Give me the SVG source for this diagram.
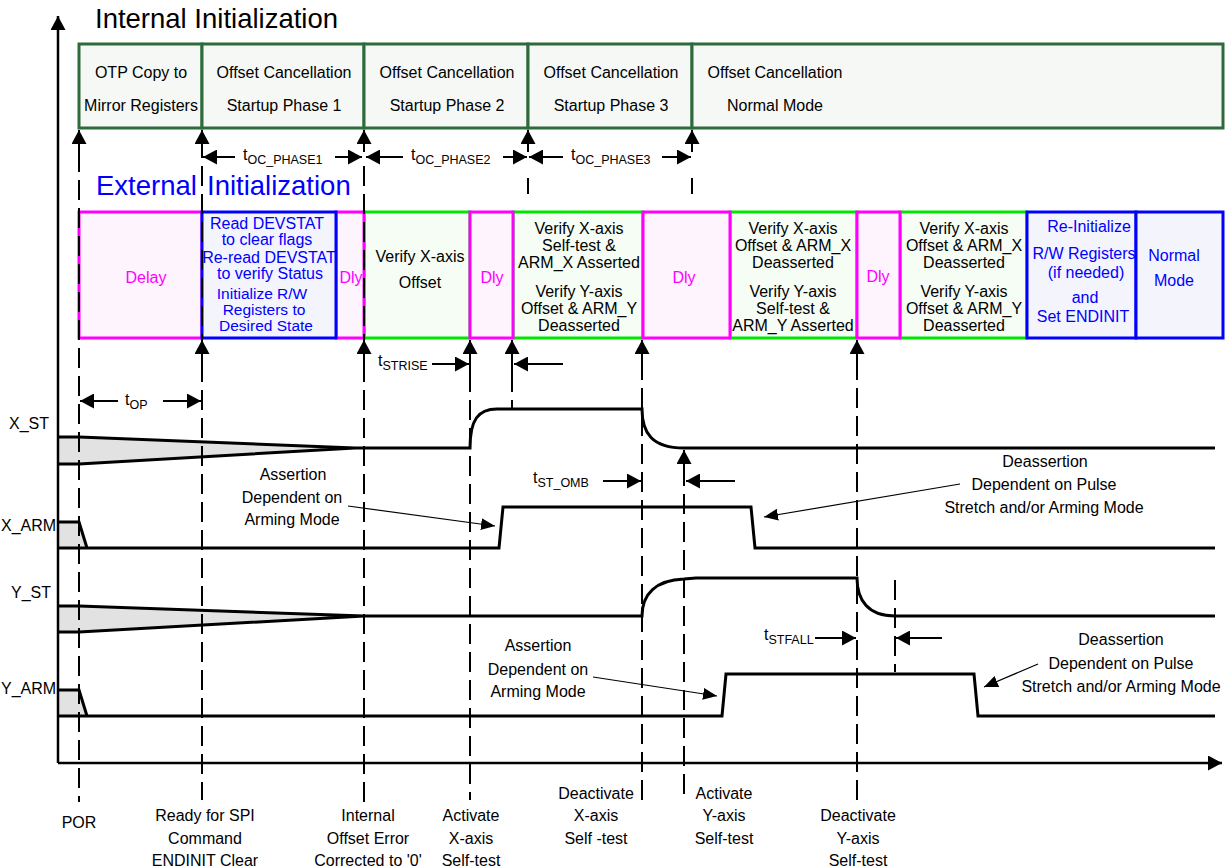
<svg xmlns="http://www.w3.org/2000/svg" width="1225" height="867" viewBox="0 0 1225 867">
<defs>
<marker id="ah" viewBox="0 0 14 15" refX="14" refY="7.5" markerWidth="14" markerHeight="15" markerUnits="userSpaceOnUse" orient="auto"><path d="M0,0 L14,7.5 L0,15 z" fill="#000"/></marker>
<marker id="ah2" viewBox="0 0 14 12" refX="14" refY="6" markerWidth="14" markerHeight="12" markerUnits="userSpaceOnUse" orient="auto"><path d="M0,0 L14,6 L0,12 z" fill="#000"/></marker>
<style>
text{font-family:"Liberation Sans",Arial,sans-serif;font-size:16px;fill:#000}
.c{text-anchor:middle}
.title{font-size:27.5px}
.blue{fill:#0000ff}
.mag{fill:#ff00ff}
.sub{font-size:12.5px}
.tight{font-size:15.5px}
.ib{fill:#f6f8f6;stroke:#2e6b3a;stroke-width:3}
.dly{fill:#fdf4fd;stroke:#ff00ff;stroke-width:3}
.gb{fill:#f5fdf5;stroke:#00e600;stroke-width:3}
.bb{fill:#f4f4fd;stroke:#0000ff;stroke-width:3}
.dash{stroke:#000;stroke-width:2;stroke-dasharray:20 8;fill:none}
.arr{stroke:#000;stroke-width:2;fill:none;marker-end:url(#ah)}
.thin{stroke:#000;stroke-width:1.2;fill:none;marker-end:url(#ah2)}
.wave{stroke:#000;stroke-width:3;fill:none}
.gray{fill:#e2e2e2;stroke:none}
.axis{stroke:#000;stroke-width:2.5;fill:none;marker-end:url(#ah)}
</style>
</defs>
<rect width="1225" height="867" fill="#fff"/>

<g id="titles">
<text x="95" y="28" class="title">Internal Initialization</text>
<text x="96" y="195" class="title blue">External</text>
<text x="207" y="195" class="title blue">Initialization</text>
</g>

<g id="internal">
<g id="int-otp"><rect class="ib" x="79" y="44" width="123" height="84"/><text class="c" x="141" y="78">OTP Copy to</text><text class="c" x="141" y="111">Mirror Registers</text></g>
<g id="int-ph1"><rect class="ib" x="202" y="44" width="162" height="84"/><text class="c" x="284" y="78">Offset Cancellation</text><text class="c" x="284" y="111">Startup Phase 1</text></g>
<g id="int-ph2"><rect class="ib" x="364" y="44" width="164" height="84"/><text class="c" x="447" y="78">Offset Cancellation</text><text class="c" x="447" y="111">Startup Phase 2</text></g>
<g id="int-ph3"><rect class="ib" x="528" y="44" width="164" height="84"/><text class="c" x="611" y="78">Offset Cancellation</text><text class="c" x="611" y="111">Startup Phase 3</text></g>
<g id="int-normal"><rect class="ib" x="692" y="44" width="531" height="84"/><text class="c" x="775" y="78">Offset Cancellation</text><text class="c" x="775" y="111">Normal Mode</text></g>
</g>

<g id="external">
<g id="ext-verx"><rect class="gb" x="364" y="212" width="106" height="126"/><text class="c" x="420" y="262">Verify X-axis</text><text class="c" x="420" y="288">Offset</text></g>
<g id="ext-v2"><rect class="gb" x="513" y="212" width="130" height="126"/>
<text class="c" x="579" y="234">Verify X-axis</text><text class="c" x="579" y="251">Self-test &amp;</text><text class="c" x="579" y="268">ARM_X Asserted</text>
<text class="c" x="579" y="297">Verify Y-axis</text><text class="c" x="579" y="314">Offset &amp; ARM_Y</text><text class="c" x="579" y="331">Deasserted</text></g>
<g id="ext-v3"><rect class="gb" x="730" y="212" width="127" height="126"/>
<text class="c" x="793" y="234">Verify X-axis</text><text class="c" x="793" y="251">Offset &amp; ARM_X</text><text class="c" x="793" y="268">Deasserted</text>
<text class="c" x="793" y="297">Verify Y-axis</text><text class="c" x="793" y="314">Self-test &amp;</text><text class="c" x="793" y="331">ARM_Y Asserted</text></g>
<g id="ext-v4"><rect class="gb" x="900" y="212" width="127" height="126"/>
<text class="c" x="964" y="234">Verify X-axis</text><text class="c" x="964" y="251">Offset &amp; ARM_X</text><text class="c" x="964" y="268">Deasserted</text>
<text class="c" x="964" y="297">Verify Y-axis</text><text class="c" x="964" y="314">Offset &amp; ARM_Y</text><text class="c" x="964" y="331">Deasserted</text></g>
<g id="ext-delay"><rect class="dly" x="79" y="212" width="123" height="126"/><text class="c mag" x="146" y="283">Delay</text></g>
<g id="ext-dly1"><rect class="dly" x="336" y="212" width="28" height="126"/><text class="c mag" x="351" y="283">Dly</text></g>
<g id="ext-dly2"><rect class="dly" x="470" y="212" width="43" height="126"/><text class="c mag" x="492" y="283">Dly</text></g>
<g id="ext-dly3"><rect class="dly" x="643" y="212" width="87" height="126"/><text class="c mag" x="684" y="283">Dly</text></g>
<g id="ext-dly4"><rect class="dly" x="857" y="212" width="43" height="126"/><text class="c mag" x="878" y="282">Dly</text></g>
<g id="ext-read"><rect class="bb" x="202" y="212" width="134" height="126"/>
<text class="c blue" x="267" y="229">Read DEVSTAT</text><text class="c blue" x="267" y="245">to clear flags</text>
<text class="c blue" x="269" y="263">Re-read DEVSTAT</text><text class="c blue" x="270" y="279">to verify Status</text>
<text class="c blue tight" x="262" y="299">Initialize R/W</text><text class="c blue tight" x="264" y="315">Registers to</text><text class="c blue tight" x="266" y="331">Desired State</text></g>
<g id="ext-reinit"><rect class="bb" x="1027" y="212" width="109" height="126"/>
<text class="c blue" x="1089" y="232">Re-Initialize</text><text class="c blue" x="1084" y="259">R/W Registers</text><text class="c blue" x="1086" y="278">(if needed)</text>
<text class="c blue" x="1085" y="303">and</text><text class="c blue" x="1083" y="322">Set ENDINIT</text></g>
<g id="ext-normal"><rect class="bb" x="1136" y="212" width="87" height="126"/><text class="c blue" x="1174" y="261">Normal</text><text class="c blue" x="1174" y="286">Mode</text></g>
</g>

<g id="signals">
<g id="sig-xst">
<text x="9" y="429">X_ST</text>
<polygon class="gray" points="58,437 79,437 355,448 79,464 58,464"/>
<path class="wave" d="M58,437 H79 L355,448 M58,464 H79 L355,448 H470 C470,420 478,409 497,409 H642 C642,433 652,448 684,448 H1215"/>
</g>
<g id="sig-xarm">
<text x="1" y="531">X_ARM</text>
<polygon class="gray" points="58,522 79,522 87,548 58,548"/>
<path class="wave" d="M58,522 H79 L87,548 M58,548 H499 L503,507 H751 L755,548 H1215"/>
</g>
<g id="sig-yst">
<text x="11" y="598">Y_ST</text>
<polygon class="gray" points="58,606 79,606 364,616 79,632 58,632"/>
<path class="wave" d="M58,606 H79 L364,616 M58,632 H79 L364,616 H642 C642,594 656,580 684,579 L696,578 H857 C857,600 868,616 895,616 H1215"/>
</g>
<g id="sig-yarm">
<text x="1" y="694">Y_ARM</text>
<polygon class="gray" points="58,690 79,690 87,716 58,716"/>
<path class="wave" d="M58,690 H79 L87,716 M58,716 H722 L726,674 H974 L978,716 H1215"/>
</g>
</g>

<g id="connectors">
<line class="axis" x1="58" y1="763" x2="58" y2="16"/>
<line class="axis" x1="58" y1="763" x2="1222" y2="763"/>
<line class="dash" x1="79" y1="152" x2="79" y2="802"/>
<line class="dash" x1="202" y1="166" x2="202" y2="800"/>
<line class="dash" x1="364" y1="166" x2="364" y2="802"/>
<line class="dash" x1="528" y1="178" x2="528" y2="194"/>
<line class="dash" x1="692" y1="178" x2="692" y2="194"/>
<line class="dash" x1="470" y1="372" x2="470" y2="800"/>
<line class="dash" x1="512" y1="372" x2="512" y2="409"/>
<line class="dash" x1="642" y1="360" x2="642" y2="800"/>
<line class="dash" x1="857" y1="360" x2="857" y2="800"/>
<line class="dash" x1="684" y1="466" x2="684" y2="800"/>
<line class="dash" x1="895" y1="580" x2="895" y2="672"/>
<line class="arr" x1="79" y1="152" x2="79" y2="130"/>
<line class="arr" x1="202" y1="158" x2="202" y2="130"/>
<line class="arr" x1="364" y1="152" x2="364" y2="130"/>
<line class="arr" x1="528" y1="152" x2="528" y2="130"/>
<line class="arr" x1="692" y1="152" x2="692" y2="130"/>
<line class="arr" x1="202" y1="372" x2="202" y2="340"/>
<line class="arr" x1="364" y1="366" x2="364" y2="340"/>
<line class="arr" x1="470" y1="372" x2="470" y2="340"/>
<line class="arr" x1="512" y1="372" x2="512" y2="340"/>
<line class="arr" x1="642" y1="360" x2="642" y2="340"/>
<line class="arr" x1="857" y1="360" x2="857" y2="340"/>
<line class="arr" x1="684" y1="466" x2="684" y2="450"/>
<line class="arr" x1="235" y1="157" x2="203" y2="157"/>
<line class="arr" x1="335" y1="157" x2="362" y2="157"/>
<line class="arr" x1="403" y1="157" x2="366" y2="157"/>
<line class="arr" x1="503" y1="157" x2="527" y2="157"/>
<line class="arr" x1="563" y1="157" x2="529" y2="157"/>
<line class="arr" x1="662" y1="157" x2="691" y2="157"/>
<line class="arr" x1="118" y1="401" x2="80" y2="401"/>
<line class="arr" x1="163" y1="401" x2="201" y2="401"/>
<line class="arr" x1="432" y1="364" x2="469" y2="364"/>
<line class="arr" x1="563" y1="364" x2="514" y2="364"/>
<line class="arr" x1="603" y1="481" x2="641" y2="481"/>
<line class="arr" x1="735" y1="481" x2="686" y2="481"/>
<line class="arr" x1="815" y1="638" x2="856" y2="638"/>
<line class="arr" x1="942" y1="638" x2="896" y2="638"/>
<line class="thin" x1="348" y1="506" x2="495" y2="526"/>
<line class="thin" x1="960" y1="484" x2="764" y2="517"/>
<line class="thin" x1="593" y1="677" x2="717" y2="696"/>
<line class="thin" x1="1038" y1="664" x2="984" y2="687"/>
</g>

<g id="timing-labels">
<text x="243" y="160">t<tspan class="sub" dy="4">OC_PHASE1</tspan></text>
<text x="411" y="160">t<tspan class="sub" dy="4">OC_PHASE2</tspan></text>
<text x="571" y="160">t<tspan class="sub" dy="4">OC_PHASE3</tspan></text>
<text x="125" y="405">t<tspan class="sub" dy="4">OP</tspan></text>
<text x="378" y="366">t<tspan class="sub" dy="4">STRISE</tspan></text>
<text x="533" y="483">t<tspan class="sub" dy="4">ST_OMB</tspan></text>
<text x="764" y="640">t<tspan class="sub" dy="4">STFALL</tspan></text>
</g>

<g id="annotations">
<text class="c" x="293" y="480">Assertion</text><text class="c" x="292" y="503">Dependent on</text><text class="c" x="292" y="525">Arming Mode</text>
<text class="c" x="1045" y="467">Deassertion</text><text class="c" x="1044" y="490">Dependent on Pulse</text><text class="c" x="1044" y="513">Stretch and/or Arming Mode</text>
<text class="c" x="538" y="651">Assertion</text><text class="c" x="538" y="675">Dependent on</text><text class="c" x="538" y="697">Arming Mode</text>
<text class="c" x="1121" y="645">Deassertion</text><text class="c" x="1121" y="669">Dependent on Pulse</text><text class="c" x="1121" y="692">Stretch and/or Arming Mode</text>
</g>

<g id="events">
<text class="c" x="79" y="828">POR</text>
<text class="c" x="205" y="821">Ready for SPI</text><text class="c" x="205" y="844">Command</text><text class="c" x="205" y="866">ENDINIT Clear</text>
<text class="c" x="368" y="821">Internal</text><text class="c" x="368" y="844">Offset Error</text><text class="c" x="368" y="866">Corrected to '0'</text>
<text class="c" x="471" y="821">Activate</text><text class="c" x="471" y="844">X-axis</text><text class="c" x="471" y="866">Self-test</text>
<text class="c" x="596" y="799">Deactivate</text><text class="c" x="596" y="821">X-axis</text><text class="c" x="596" y="844">Self -test</text>
<text class="c" x="724" y="799">Activate</text><text class="c" x="724" y="821">Y-axis</text><text class="c" x="724" y="844">Self-test</text>
<text class="c" x="858" y="821">Deactivate</text><text class="c" x="858" y="844">Y-axis</text><text class="c" x="858" y="866">Self-test</text>
</g>
</svg>
